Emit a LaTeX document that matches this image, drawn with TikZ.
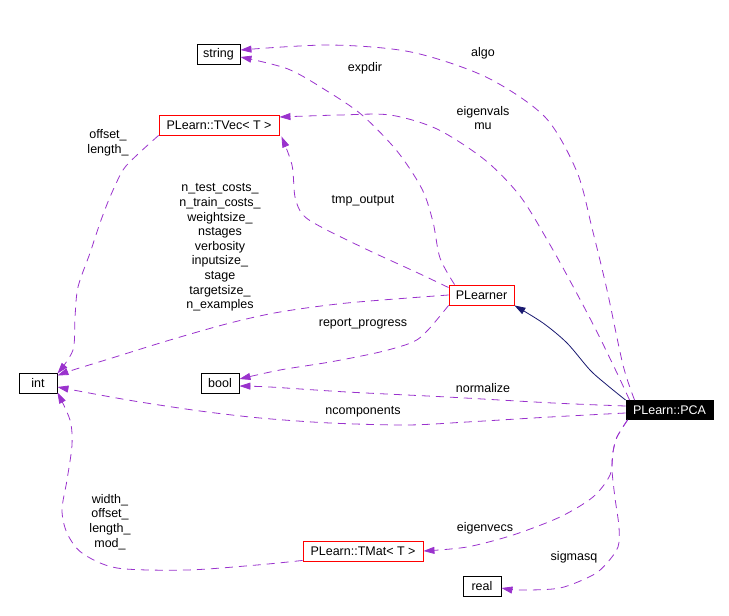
\documentclass[tikz,border=0pt]{standalone}
\usepackage{fontspec}
\setmainfont{Liberation Sans}
\usetikzlibrary{arrows.meta}

\definecolor{memberpurple}{HTML}{9A32CD}
\definecolor{inheritnavy}{HTML}{191970}

\tikzset{
  classbox/.style={draw=black, line width=0.9pt, rectangle, minimum height=20pt,
    inner xsep=2pt, inner ysep=0pt, font=\fontsize{12.5}{14.6}\selectfont},
  truncbox/.style={classbox, draw=red},
  mainbox/.style={classbox, fill=black, text=white, minimum height=19pt},
  member/.style={memberpurple, line width=0.8pt, dash pattern=on 8pt off 6pt,
    -{Triangle[length=11pt,width=7pt]}},
  inherit/.style={inheritnavy, line width=0.8pt, -{Triangle[length=11pt,width=7pt]}},
  edgelabel/.style={align=center, inner sep=0pt, font=\fontsize{12.5}{14.6}\selectfont},
}

\begin{document}
\begin{tikzpicture}[x=1pt,y=-1pt]
  \useasboundingbox (0,0) rectangle (729,616);

  % classes
  \node[classbox, minimum width=43pt] (string) at (218.5,54) {string};
  \node[truncbox, minimum width=120pt] (tvec) at (219,125) {PLearn::TVec< T >};
  \node[classbox, minimum width=38pt] (int) at (38,383) {int};
  \node[classbox, minimum width=38pt] (bool) at (220,383) {bool};
  \node[truncbox, minimum width=65pt] (plearner) at (481.5,295) {PLearner};
  \node[mainbox, minimum width=87pt] (pca) at (669.5,410) {PLearn::PCA};
  \node[truncbox, minimum width=120pt] (tmat) at (363,551) {PLearn::TMat< T >};
  \node[classbox, minimum width=38pt] (real) at (482,586.5) {real};

  % inheritance
  \draw[inherit] plot[smooth] coordinates {(pca.north west) (607,385) (590,370)
    (567,343) (543,323) (plearner.south east)};

  % members of PLearn::PCA
  \draw[member] plot[smooth] coordinates {([xshift=9pt]pca.north west) (623,365)
    (607,290) (592,228) (577,172) (545,117) (486,77) (411,52) (330,45)
    ([yshift=4pt]string.east)};
  \draw[member] plot[smooth] coordinates {([xshift=4pt]pca.north west) (617,373)
    (597,332) (575,290) (549,243) (520,196) (485,160) (437,129) (390,115)
    (340,115) ([yshift=8pt]tvec.east)};
  \draw[member] plot[smooth] coordinates {([yshift=4pt]pca.west) (553,403)
    (447,397) (347,392) (270,387) ([yshift=-3pt]bool.east)};
  \draw[member] plot[smooth] coordinates {([yshift=-3pt]pca.west) (550,417)
    (467,422) (407,425) (330,423) (260,418) (200,411) (140,402) (100,395)
    ([yshift=-4pt]int.east)};
  \draw[member] plot[smooth] coordinates {([xshift=2pt]pca.south west) (617,437)
    (613,452) (610,475) (593,497) (560,517) (513,535) (467,547) (tmat.east)};
  \draw[member] plot[smooth] coordinates {([xshift=2pt]pca.south west) (617,437)
    (613,452) (612,470) (615,498) (619,527) (618,547) (607,563) (593,575)
    (560,588) (520,590) ([yshift=-1.5pt]real.east)};

  % members of PLearner
  \draw[member] plot[smooth] coordinates {([xshift=6pt]plearner.north west)
    (440,258) (433,222) (422,189) (397,151) (362,115) (327,91) (288,69)
    ([yshift=-3pt]string.east)};
  \draw[member] plot[smooth] coordinates {([yshift=-3pt]plearner.north west)
    (418,273) (370,251) (323,228) (303,215) (295,197) (292,165)
    ([xshift=2pt,yshift=-1pt]tvec.south east)};
  \draw[member] plot[smooth] coordinates {(plearner.west) (347,303) (280,312)
    (230,323) (170,340) (112,358) (73,370) ([yshift=-3pt]int.north east)};
  \draw[member] plot[smooth] coordinates {(plearner.south west) (428,330)
    (413,342) (380,352) (330,362) (280,370) ([yshift=4pt]bool.east)};

  % members of the templates
  \draw[member] plot[smooth] coordinates {(tvec.south west) (137,155) (123,170)
    (110,197) (100,223) (90,253) (78,287) (75,317) (73,350)
    ([yshift=-1pt]int.north east)};
  \draw[member] plot[smooth] coordinates {([yshift=1pt]tmat.south west) (257,565)
    (187,570) (117,568) (82,553) (67,533) (62,510) (67,480) (72,445) (70,420)
    ([yshift=1pt]int.south east)};

  % labels
  \node[edgelabel] (lalgo) at (483,53) {algo};
  \node[edgelabel] (lexpdir) at (365,68) {expdir};
  \node[edgelabel] (leigenvals) at (483,118) {eigenvals\\mu};
  \node[edgelabel] (ltmpoutput) at (363,201) {tmp\_output};
  \node[edgelabel] (ltvecint) at (108,143) {offset\_\\length\_};
  \node[edgelabel] (llearnerint) at (220,247.5) {n\_test\_costs\_\\n\_train\_costs\_\\weightsize\_\\nstages\\verbosity\\inputsize\_\\stage\\targetsize\_\\n\_examples};
  \node[edgelabel] (lreport) at (363,324) {report\_progress};
  \node[edgelabel] (lnormalize) at (483,388) {normalize};
  \node[edgelabel] (lncomponents) at (363,412) {ncomponents};
  \node[edgelabel] (ltmatint) at (110,522) {width\_\\offset\_\\length\_\\mod\_};
  \node[edgelabel] (leigenvecs) at (485,528) {eigenvecs};
  \node[edgelabel] (lsigmasq) at (574,557) {sigmasq};
\end{tikzpicture}
\end{document}
